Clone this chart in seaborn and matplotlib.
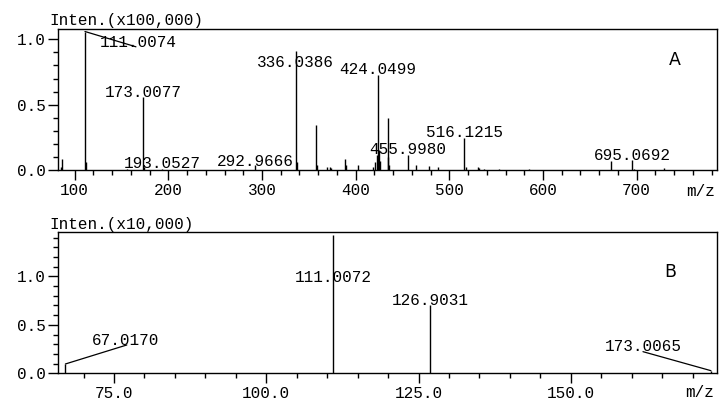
import numpy as np
import pandas as pd
import matplotlib
matplotlib.use("Agg")
import matplotlib.pyplot as plt
from matplotlib.ticker import MultipleLocator, FormatStrFormatter
import seaborn as sns

# panel A peaks (m/z, intensity in x100,000)
mz_a = [85.4, 86.8, 111.0074, 112.0, 155.5, 173.0077, 174.0, 193.0527, 271.0, 292.9666,
        336.0386, 337.0, 357.3, 358.3, 369.0, 372.9, 374.0, 388.2, 389.3, 403.0,
        418.0, 421.0, 422.3, 424.0499, 425.0, 426.0, 434.0, 435.0, 436.0,
        455.9980, 464.0, 478.3, 487.4, 516.1215, 518.3, 530.1, 531.9, 537.4,
        553.3, 585.2, 672.9, 695.0692, 697.6, 729.4]
int_a = [0.02, 0.082, 1.06, 0.063, 0.01, 0.56, 0.02, 0.01, 0.01, 0.038,
         0.913, 0.063, 0.344, 0.04, 0.02, 0.02, 0.015, 0.082, 0.04, 0.038,
         0.02, 0.06, 0.115, 0.725, 0.15, 0.07, 0.395, 0.1, 0.04,
         0.112, 0.038, 0.028, 0.02, 0.242, 0.02, 0.02, 0.015, 0.01,
         0.01, 0.008, 0.069, 0.074, 0.01, 0.018]

# labelled peaks A: text, label baseline y
lab_a = ["336.0386", "424.0499", "173.0077", "193.0527", "292.9666",
         "455.9980", "516.1215", "695.0692"]
lab_a_x = [336.0386, 424.0499, 173.0077, 193.0527, 292.9666, 455.9980, 516.1215, 695.0692]
lab_a_y = [0.788, 0.735, 0.558, 0.015, 0.031, 0.122, 0.252, 0.077]

# panel B peaks (m/z, intensity in x10,000)
mz_b = [67.0170, 111.0072, 126.9031, 173.0065]
int_b = [0.096, 1.43, 0.70, 0.027]
lab_b = ["111.0072", "126.9031"]
lab_b_x = [111.0072, 126.9031]
lab_b_y = [0.945, 0.704]

df_a = pd.DataFrame({"mz": mz_a, "inten": int_a})
df_b = pd.DataFrame({"mz": mz_b, "inten": int_b})

sns.set_theme(style="ticks")
plt.rcParams['font.family'] = ['Liberation Mono', 'DejaVu Sans']
plt.rcParams['axes.linewidth'] = 1.0
plt.rcParams['axes.edgecolor'] = 'black'
plt.rcParams['xtick.color'] = 'black'
plt.rcParams['ytick.color'] = 'black'
plt.rcParams['text.color'] = 'black'
plt.rcParams['xtick.labelcolor'] = 'black'
plt.rcParams['ytick.labelcolor'] = 'black'

fs = 11.5
fig = plt.figure(figsize=(7.24, 4.05), dpi=100)
ax1 = fig.add_axes([0.0801, 0.5802, 0.9109, 0.3475])
ax2 = fig.add_axes([0.0801, 0.0783, 0.9102, 0.3481])

# ---- panel A
ax1.vlines(df_a["mz"], 0, df_a["inten"], color="black", lw=1.0)
ax1.set_xlim(82.2, 786.3)
ax1.set_ylim(0, 1.077)
ax1.xaxis.set_major_locator(MultipleLocator(100))
ax1.xaxis.set_minor_locator(MultipleLocator(20))
ax1.yaxis.set_major_locator(MultipleLocator(0.5))
ax1.yaxis.set_minor_locator(MultipleLocator(0.1))
ax1.yaxis.set_major_formatter(FormatStrFormatter("%.1f"))
for t, x, y in zip(lab_a, lab_a_x, lab_a_y):
    ax1.text(x, y, t, ha="center", va="baseline", fontsize=fs)
# leader line for the base peak
ax1.plot([111.0074, 165.4], [1.06, 0.943], color="black", lw=0.9)
ax1.text(127.0, 0.941, "111.0074", ha="left", va="baseline", fontsize=fs)
ax1.text(-0.0136, 1.03, "Inten.(x100,000)", transform=ax1.transAxes,
         ha="left", va="baseline", fontsize=fs)
ax1.text(0.996, -0.185, "m/z", transform=ax1.transAxes,
         ha="right", va="baseline", fontsize=fs)
ax1.text(0.9356, 0.785, "A", transform=ax1.transAxes, ha="center", va="center",
         fontsize=12.5, family="DejaVu Sans")

# ---- panel B
ax2.vlines(df_b["mz"], 0, df_b["inten"], color="black", lw=1.0)
ax2.set_xlim(65.8, 174.0)
ax2.set_ylim(0, 1.454)
ax2.xaxis.set_major_locator(MultipleLocator(25))
ax2.xaxis.set_minor_locator(MultipleLocator(5))
ax2.xaxis.set_major_formatter(FormatStrFormatter("%.1f"))
ax2.yaxis.set_major_locator(MultipleLocator(0.5))
ax2.yaxis.set_minor_locator(MultipleLocator(0.1))
ax2.yaxis.set_major_formatter(FormatStrFormatter("%.1f"))
for t, x, y in zip(lab_b, lab_b_x, lab_b_y):
    ax2.text(x, y, t, ha="center", va="baseline", fontsize=fs)
ax2.plot([67.0170, 77.1], [0.096, 0.292], color="black", lw=0.9)
ax2.text(71.3, 0.292, "67.0170", ha="left", va="baseline", fontsize=fs)
ax2.plot([173.0065, 161.85], [0.027, 0.223], color="black", lw=0.9)
ax2.text(155.6, 0.233, "173.0065", ha="left", va="baseline", fontsize=fs)
ax2.text(-0.0136, 1.023, "Inten.(x10,000)", transform=ax2.transAxes,
         ha="left", va="baseline", fontsize=fs)
ax2.text(0.996, -0.168, "m/z", transform=ax2.transAxes,
         ha="right", va="baseline", fontsize=fs)
ax2.text(0.9287, 0.72, "B", transform=ax2.transAxes, ha="center", va="center",
         fontsize=12.5, family="DejaVu Sans")

for ax in (ax1, ax2):
    ax.tick_params(which="major", direction="out", length=7, width=1.0, pad=2, labelsize=fs)
    ax.tick_params(which="minor", direction="out", length=3.5, width=1.0)
    for s in ax.spines.values():
        s.set_visible(True)
        s.set_linewidth(1.0)
    ax.set_xlabel("")
    ax.set_ylabel("")

fig.savefig("out.png", dpi=100)
